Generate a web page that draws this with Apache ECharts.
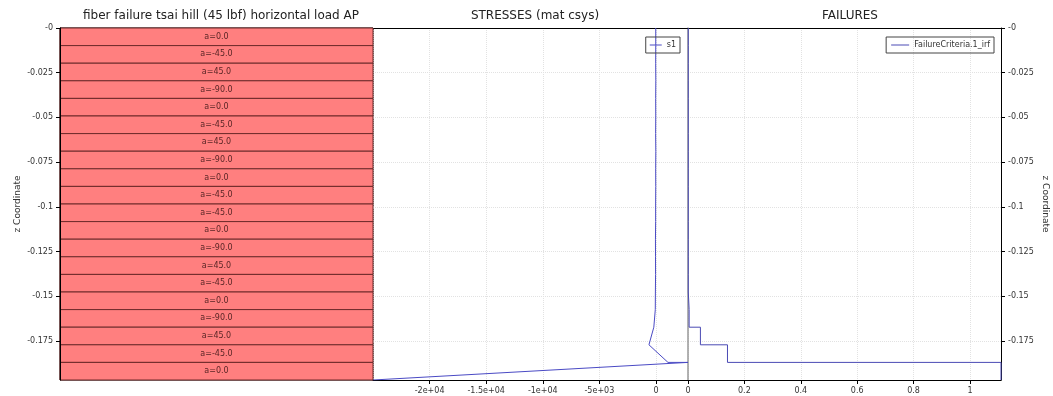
<!DOCTYPE html>
<html>
<head>
<meta charset="utf-8">
<script src="https://cdn.jsdelivr.net/npm/echarts@6/dist/echarts.min.js"></script>
<style>
html,body{margin:0;padding:0;background:#fff;}
#chart{width:1053px;height:396px;}
</style>
</head>
<body>
<div id="chart"></div>
<script>
// ---- data ----
const plyAngles = ['0.0','-45.0','45.0','-90.0','0.0','-45.0','45.0','-90.0','0.0','-45.0',
                   '-45.0','0.0','-90.0','45.0','-45.0','0.0','-90.0','45.0','-45.0','0.0'];
// z coordinate of ply interfaces (top to bottom)
const zInterfaces = [0, -0.00984, -0.01969, -0.02953, -0.03937, -0.04921, -0.05906, -0.06890,
                     -0.07874, -0.08858, -0.09843, -0.10827, -0.11811, -0.12795, -0.13780,
                     -0.14764, -0.15748, -0.16732, -0.17717, -0.18701, -0.19685];
// s1 stress at top and bottom of each ply
const s1Top    = [-20,-25,-15,-25,-20,-30,-15,-25,-20,-30,-30,-45,-40,-35,-50,-60,-190,-190,-620,2830];
const s1Bottom = [-20,-25,-15,-25,-20,-30,-15,-25,-20,-30,-30,-45,-40,-35,-50,-60,-190,-620,1060,-25000];
// failure index per ply
const irf = [0.001,0.001,0.001,0.001,0.001,0.001,0.001,0.001,0.001,0.001,
             0.001,0.001,0.001,0.001,0.001,0.004,0.004,0.044,0.14,1.11];
const zTicksInterval = 0.025;
const stressTickInterval = 5000;
const failTickInterval = 0.2;

// ---- build ----
const depthMax = -zInterfaces[zInterfaces.length - 1];
const plyData = plyAngles.map((a, i) => [-zInterfaces[i], -zInterfaces[i + 1], 'a=' + a]);
const s1Data = [];
const irfData = [];
plyAngles.forEach((a, i) => {
  s1Data.push([s1Top[i], -zInterfaces[i]]);
  s1Data.push([s1Bottom[i], -zInterfaces[i + 1]]);
  irfData.push([irf[i], -zInterfaces[i]]);
  irfData.push([irf[i], -zInterfaces[i + 1]]);
});

const FONT = 'DejaVu Sans';
const gridTop = 28, gridBottom = 16;
function expFmt(v) {
  if (v === 0) return '0';
  const s = v.toExponential();
  let [m, e] = s.split('e');
  const sign = e[0];
  let d = e.slice(1);
  if (d.length < 2) d = '0' + d;
  return m + 'e' + sign + d;
}
const splitStyle = { show: true, lineStyle: { color: '#e2e2e2', type: 'dotted', width: 1 } };
const depthAxisBase = {
  type: 'value', inverse: true, min: 0, max: depthMax, interval: zTicksInterval
};
const lbl = { fontFamily: FONT, fontSize: 8, color: '#333' };

const chart = echarts.init(document.getElementById('chart'), null, { renderer: 'canvas' });
chart.setOption({
  animation: false,
  backgroundColor: '#fff',
  title: [
    { text: 'fiber failure tsai hill (45 lbf) horizontal load AP', left: 216, top: 5, textAlign: 'center',
      textStyle: { fontFamily: FONT, fontSize: 12, fontWeight: 'normal', color: '#222' } },
    { text: 'STRESSES (mat csys)', left: 530, top: 5, textAlign: 'center',
      textStyle: { fontFamily: FONT, fontSize: 12, fontWeight: 'normal', color: '#222' } },
    { text: 'FAILURES', left: 845, top: 5, textAlign: 'center',
      textStyle: { fontFamily: FONT, fontSize: 12, fontWeight: 'normal', color: '#222' } }
  ],
  legend: [
    { data: ['s1'], right: 373, top: 37, orient: 'vertical', borderColor: '#444', borderWidth: 1,
      padding: [4, 4, 4, 4], icon: 'rect', itemWidth: 12, itemHeight: 1, itemGap: 4,
      textStyle: { fontFamily: FONT, fontSize: 8, color: '#333' } },
    { data: ['FailureCriteria.1_irf'], right: 59, top: 37, orient: 'vertical', borderColor: '#444', borderWidth: 1,
      padding: [4, 4, 4, 5], icon: 'rect', itemWidth: 18, itemHeight: 1,
      textStyle: { fontFamily: FONT, fontSize: 8, color: '#333' } }
  ],
  grid: [
    { left: 60, right: 680, top: gridTop, bottom: gridBottom, show: true, borderColor: '#000', borderWidth: 1 },
    { left: 373, right: 365, top: gridTop, bottom: gridBottom },
    { left: 688, right: 52, top: gridTop, bottom: gridBottom }
  ],
  xAxis: [
    { gridIndex: 0, type: 'value', min: 0, max: 1, show: false },
    { gridIndex: 1, type: 'value', min: -25000, max: 2830, interval: stressTickInterval, position: 'bottom',
      axisLine: { onZero: false, lineStyle: { color: '#000' } },
      axisTick: { length: 4, lineStyle: { color: '#000' } },
      axisLabel: Object.assign({ margin: 7, showMinLabel: false, showMaxLabel: false, formatter: expFmt }, lbl),
      splitLine: splitStyle },
    { gridIndex: 1, type: 'value', min: -25000, max: 2830, position: 'top',
      axisLine: { onZero: false, lineStyle: { color: '#000' } },
      axisTick: { show: false }, axisLabel: { show: false }, splitLine: { show: false } },
    { gridIndex: 2, type: 'value', min: 0, max: 1.11, interval: failTickInterval, position: 'bottom',
      axisLine: { onZero: false, lineStyle: { color: '#000' } },
      axisTick: { length: 4, lineStyle: { color: '#000' } },
      axisLabel: Object.assign({ margin: 7, showMaxLabel: false }, lbl),
      splitLine: splitStyle },
    { gridIndex: 2, type: 'value', min: 0, max: 1.11, position: 'top',
      axisLine: { onZero: false, lineStyle: { color: '#000' } },
      axisTick: { show: false }, axisLabel: { show: false }, splitLine: { show: false } }
  ],
  yAxis: [
    Object.assign({}, depthAxisBase, { gridIndex: 0, position: 'left', z: 5,
      name: 'z Coordinate', nameLocation: 'middle', nameGap: 38,
      nameTextStyle: { fontFamily: FONT, fontSize: 9, color: '#333' },
      axisLine: { onZero: false, lineStyle: { color: '#000' } },
      axisTick: { length: 4, lineStyle: { color: '#000' } },
      axisLabel: Object.assign({ margin: 7, showMaxLabel: false, formatter: v => '-' + v }, lbl),
      splitLine: { show: false } }),
    Object.assign({}, depthAxisBase, { gridIndex: 1, position: 'left',
      axisLine: { show: false }, axisTick: { show: false }, axisLabel: { show: false },
      splitLine: splitStyle }),
    Object.assign({}, depthAxisBase, { gridIndex: 2, position: 'left',
      axisLine: { onZero: false, lineStyle: { color: '#999', width: 1.5 } },
      axisTick: { show: false }, axisLabel: { show: false },
      splitLine: splitStyle }),
    Object.assign({}, depthAxisBase, { gridIndex: 2, position: 'right',
      name: 'z Coordinate', nameLocation: 'middle', nameGap: 40, nameRotate: -90,
      nameTextStyle: { fontFamily: FONT, fontSize: 9, color: '#333' },
      axisLine: { onZero: false, lineStyle: { color: '#000' } },
      axisTick: { length: 4, lineStyle: { color: '#000' } },
      axisLabel: Object.assign({ margin: 7, showMaxLabel: false, formatter: v => '-' + v }, lbl),
      splitLine: { show: false } })
  ],
  series: [
    {
      type: 'custom', name: 'plies', xAxisIndex: 0, yAxisIndex: 0,
      data: plyData,
      renderItem: function (params, api) {
        const p1 = api.coord([0, api.value(0)]);
        const p2 = api.coord([1, api.value(1)]);
        return {
          type: 'group',
          children: [
            { type: 'rect', shape: { x: p1[0], y: p1[1], width: p2[0] - p1[0], height: p2[1] - p1[1] },
              style: { fill: '#ff7f7f', stroke: '#6e2a2a', lineWidth: 1 } },
            { type: 'text', style: { text: plyData[params.dataIndex][2], x: (p1[0] + p2[0]) / 2,
              y: (p1[1] + p2[1]) / 2, align: 'center', verticalAlign: 'middle',
              font: '8px "DejaVu Sans"', fill: '#5a2626' } }
          ]
        };
      }
    },
    {
      type: 'line', name: 's1', xAxisIndex: 1, yAxisIndex: 1, data: s1Data,
      showSymbol: false, symbol: 'none', color: '#4a4ac4',
      lineStyle: { width: 1, color: '#4a4ac4' }
    },
    {
      type: 'line', name: 'FailureCriteria.1_irf', xAxisIndex: 3, yAxisIndex: 2, data: irfData,
      showSymbol: false, symbol: 'none', color: '#4a4ab4',
      lineStyle: { width: 1, color: '#4a4ab4' }
    }
  ]
});
</script>
</body>
</html>
